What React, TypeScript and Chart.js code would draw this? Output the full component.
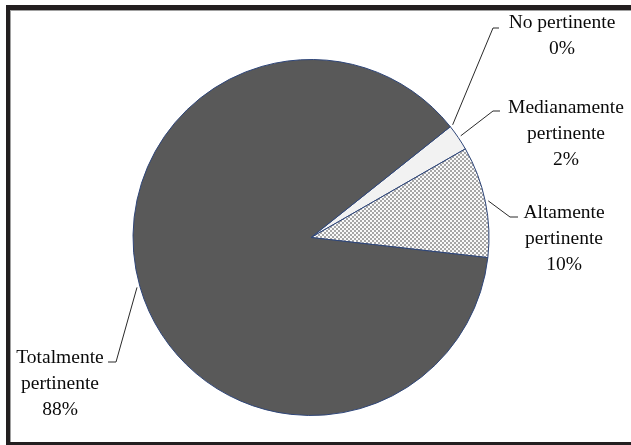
import { useEffect, useRef } from 'react';
import { Chart, registerables } from 'chart.js';

Chart.register(...registerables);

const categories = ['No pertinente', 'Medianamente pertinente', 'Altamente pertinente', 'Totalmente pertinente'];
const labelLines = [['No pertinente'], ['Medianamente', 'pertinente'], ['Altamente', 'pertinente'], ['Totalmente', 'pertinente']];
const values = [0, 2.4, 10.1, 87.5];
const percentLabels = values.map((v) => Math.round(v) + '%');

// label layout (positions only)
const labelLayout = [
  { cx: 562, baseline: 28, elbow: [493, 28], end: [499, 28] },
  { cx: 566, baseline: 113, elbow: [493, 111], end: [500, 111] },
  { cx: 564, baseline: 218, elbow: [510, 217], end: [518, 217] },
  { cx: 60, baseline: 363, elbow: [116, 362], end: [108, 362] },
];

function makePattern(): CanvasPattern | string {
  const c = document.createElement('canvas');
  c.width = 4;
  c.height = 4;
  const g = c.getContext('2d');
  if (!g) return '#cccccc';
  g.fillStyle = '#fafafa';
  g.fillRect(0, 0, 4, 4);
  g.fillStyle = '#a6a6a6';
  g.fillRect(0, 0, 2, 2);
  g.fillRect(2, 2, 2, 2);
  const p = g.createPattern(c, 'repeat');
  return p || '#cccccc';
}

export default function App() {
  const ref = useRef<HTMLCanvasElement | null>(null);
  useEffect(() => {
    if (!ref.current) return;
    const framePlugin = {
      id: 'frame',
      beforeDraw(chart: any) {
        const ctx = chart.ctx;
        ctx.save();
        ctx.fillStyle = '#ffffff';
        ctx.fillRect(0, 0, chart.width, chart.height);
        ctx.fillStyle = '#231f20';
        ctx.fillRect(6, 5, chart.width - 6, 5);
        ctx.fillRect(6, 5, 4, chart.height - 5);
        ctx.fillRect(6, 442, chart.width - 6, 3);
        ctx.fillStyle = '#a0a0a0';
        ctx.fillRect(10, 10, chart.width - 10, 1);
        ctx.fillRect(10, 10, 1, 432);
        ctx.restore();
      },
    };
    const labelPlugin = {
      id: 'pieLabels',
      afterDraw(chart: any) {
        const ctx = chart.ctx;
        const meta = chart.getDatasetMeta(0);
        ctx.save();
        meta.data.forEach((arc: any, i: number) => {
          const { x, y, startAngle, endAngle, outerRadius } = arc.getProps(['x', 'y', 'startAngle', 'endAngle', 'outerRadius'], true);
          const mid = (startAngle + endAngle) / 2;
          const ax = x + Math.cos(mid) * (outerRadius + 3);
          const ay = y + Math.sin(mid) * (outerRadius + 3);
          const L = labelLayout[i];
          ctx.strokeStyle = '#2a2a2a';
          ctx.lineWidth = 1;
          ctx.beginPath();
          ctx.moveTo(ax, ay);
          ctx.lineTo(L.elbow[0], L.elbow[1]);
          ctx.lineTo(L.end[0], L.end[1]);
          ctx.stroke();
          ctx.fillStyle = '#0a0a0a';
          ctx.font = '19.5px "Liberation Serif", "Times New Roman", serif';
          ctx.textAlign = 'center';
          ctx.textBaseline = 'alphabetic';
          const lines = [...labelLines[i], percentLabels[i]];
          lines.forEach((t, k) => {
            ctx.fillText(t, L.cx, L.baseline + k * 26);
          });
        });
        ctx.restore();
      },
    };
    const chart = new Chart(ref.current, {
      type: 'pie',
      data: {
        labels: categories,
        datasets: [
          {
            data: values,
            backgroundColor: ['#f2f2f2', '#f2f2f2', makePattern() as any, '#595959'],
            borderColor: '#2f4679',
            borderWidth: 1,
            radius: 178,
          } as any,
        ],
      },
      options: {
        responsive: false,
        animation: false,
        devicePixelRatio: 1,
        rotation: 51.5,
        layout: { padding: { left: 0, right: 9, top: 30, bottom: 0 } },
        plugins: { legend: { display: false }, tooltip: { enabled: false } },
      },
      plugins: [framePlugin, labelPlugin],
    });
    return () => chart.destroy();
  }, []);
  return (
    <div style={{ position: 'fixed', left: 0, top: 0, width: 631, height: 445 }}>
      <canvas ref={ref} width={631} height={445} style={{ width: 631, height: 445, display: 'block' }} />
    </div>
  );
}
